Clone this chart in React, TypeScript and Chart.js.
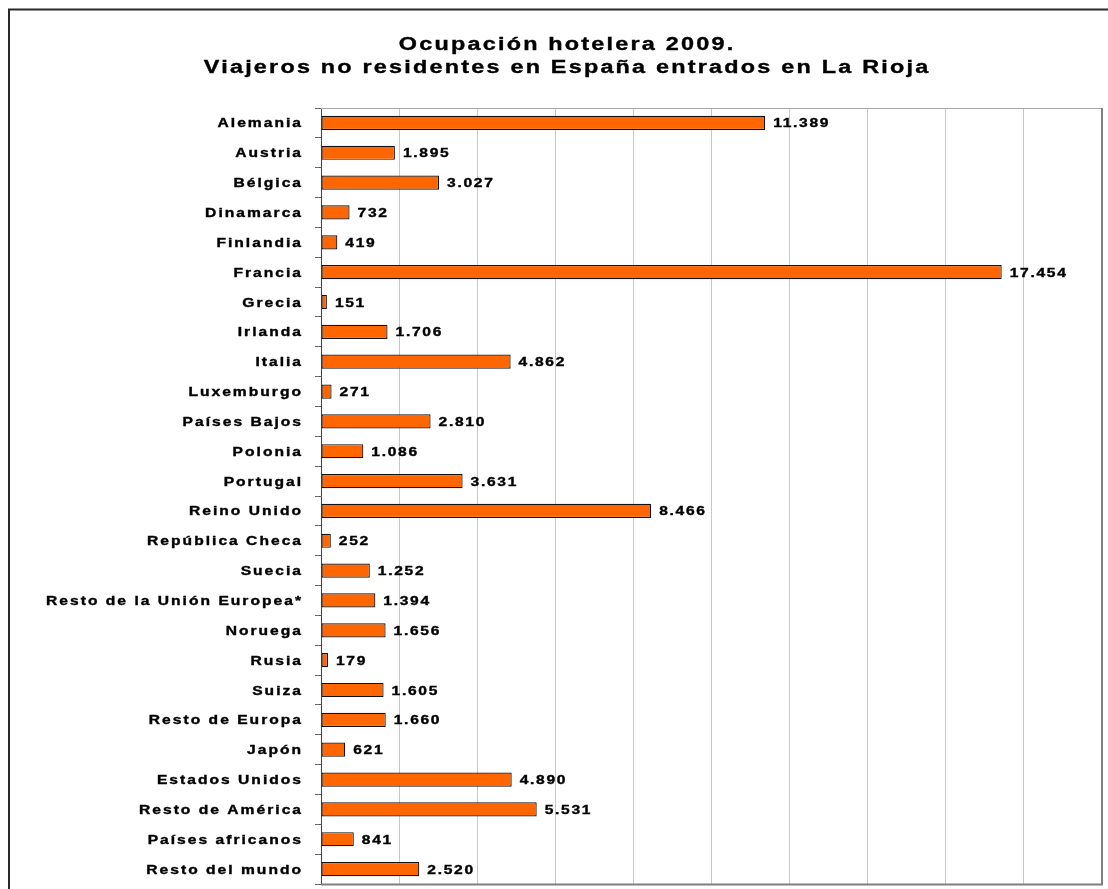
import React, { useEffect, useRef } from "react";
import { Chart, registerables } from "chart.js";

Chart.register(...registerables);

const categories = [
  "Alemania", "Austria", "Bélgica", "Dinamarca", "Finlandia", "Francia", "Grecia",
  "Irlanda", "Italia", "Luxemburgo", "Países Bajos", "Polonia", "Portugal",
  "Reino Unido", "República Checa", "Suecia", "Resto de la Unión Europea*",
  "Noruega", "Rusia", "Suiza", "Resto de Europa", "Japón", "Estados Unidos",
  "Resto de América", "Países africanos", "Resto del mundo",
];

const viajeros = [
  11389, 1895, 3027, 732, 419, 17454, 151, 1706, 4862, 271, 2810, 1086, 3631,
  8466, 252, 1252, 1394, 1656, 179, 1605, 1660, 621, 4890, 5531, 841, 2520,
];

const titleLines = [
  "Ocupación hotelera 2009.",
  "Viajeros no residentes en España entrados en La Rioja",
];

const xMin = 0;
const xMax = 20000;
const xStep = 2000;

const FONT = '"Liberation Sans", Arial, sans-serif';

function fmt(n: number): string {
  return String(n).replace(/\B(?=(\d{3})+(?!\d))/g, ".");
}

function drawText(
  ctx: CanvasRenderingContext2D,
  text: string,
  x: number,
  y: number,
  align: "left" | "right" | "center",
  size: number,
  spacing: number,
  sx: number
) {
  ctx.save();
  ctx.font = `bold ${size}px ${FONT}`;
  (ctx as any).letterSpacing = "0px";
  const n = [...text].length;
  const w = (ctx.measureText(text).width + spacing * (n - 1)) * sx;
  const left = align === "right" ? x - w : align === "center" ? x - w / 2 : x;
  (ctx as any).letterSpacing = spacing + "px";
  ctx.translate(left, y);
  ctx.scale(sx, 1);
  ctx.textAlign = "left";
  ctx.textBaseline = "alphabetic";
  ctx.fillStyle = "#000";
  ctx.strokeStyle = "#000";
  ctx.lineWidth = 0.35;
  ctx.fillText(text, 0, 0);
  ctx.strokeText(text, 0, 0);
  ctx.restore();
}

const decorPlugin = {
  id: "decor",
  beforeDraw(chart: any) {
    const ctx = chart.ctx as CanvasRenderingContext2D;
    ctx.save();
    ctx.fillStyle = "#fff";
    ctx.fillRect(0, 0, chart.width, chart.height);
    ctx.strokeStyle = "#2a2a2a";
    ctx.lineWidth = 2;
    ctx.beginPath();
    ctx.moveTo(9, chart.height + 5);
    ctx.lineTo(9, 9.5);
    ctx.lineTo(chart.width + 5, 9.5);
    ctx.stroke();
    ctx.restore();
  },
  afterDraw(chart: any) {
    const ctx = chart.ctx as CanvasRenderingContext2D;
    const a = chart.chartArea;
    ctx.save();
    ctx.strokeStyle = "#a8a8a8";
    ctx.lineWidth = 1;
    ctx.beginPath();
    ctx.moveTo(a.left, a.top + 0.5);
    ctx.lineTo(a.right, a.top + 0.5);
    ctx.stroke();
    ctx.strokeStyle = "#808080";
    ctx.lineWidth = 2;
    ctx.beginPath();
    ctx.moveTo(a.right + 1, a.top);
    ctx.lineTo(a.right + 1, a.bottom + 1);
    ctx.stroke();
    ctx.beginPath();
    ctx.moveTo(a.left, a.bottom + 0.5);
    ctx.lineTo(a.right + 2, a.bottom + 0.5);
    ctx.stroke();
    ctx.restore();

    drawText(ctx, titleLines[0], 566, 50, "center", 18, 1.7, 1.3);
    drawText(ctx, titleLines[1], 566, 73, "center", 18, 1.7, 1.3);

    const yScale = chart.scales.y;
    categories.forEach((c, i) => {
      const y = yScale.getPixelForValue(i);
      drawText(ctx, c, 301, y + 4.5, "right", 12, 1.55, 1.3);
    });

    const meta = chart.getDatasetMeta(0);
    meta.data.forEach((bar: any, i: number) => {
      drawText(ctx, fmt(viajeros[i]), bar.x + 8, bar.y + 4.5, "left", 12, 1.3, 1.3);
    });
  },
};

export default function App() {
  const ref = useRef<HTMLCanvasElement | null>(null);

  useEffect(() => {
    if (!ref.current) return;
    const chart = new Chart(ref.current, {
      type: "bar",
      data: {
        labels: categories,
        datasets: [
          {
            data: viajeros,
            backgroundColor: "#FF6600",
            borderColor: "#111",
            borderWidth: 1.2,
            borderSkipped: false,
            barPercentage: 0.95,
            categoryPercentage: 0.5,
          },
        ],
      },
      options: {
        indexAxis: "y",
        responsive: false,
        animation: false,
        events: [],
        layout: { padding: { left: 0, right: 7, top: 108, bottom: 5 } },
        plugins: {
          legend: { display: false },
          title: { display: false },
          tooltip: { enabled: false },
        },
        scales: {
          x: {
            type: "linear",
            min: xMin,
            max: xMax,
            ticks: { stepSize: xStep, display: false },
            grid: {
              color: "#c8c8c8",
              lineWidth: 1,
              drawTicks: false,
            },
            border: { display: false },
          },
          y: {
            type: "category",
            ticks: { display: false },
            grid: {
              drawOnChartArea: false,
              drawTicks: true,
              tickLength: 6,
              offset: true,
              color: "#666",
            },
            border: { display: true, color: "#444", width: 1 },
            afterFit: (s: any) => {
              s.width = 321;
            },
          },
        },
      },
      plugins: [decorPlugin],
    });
    return () => chart.destroy();
  }, []);

  return (
    <div style={{ position: "fixed", left: 0, top: 0, width: 1108, height: 889, background: "#fff" }}>
      <canvas ref={ref} width={1108} height={889} style={{ display: "block" }} />
    </div>
  );
}
